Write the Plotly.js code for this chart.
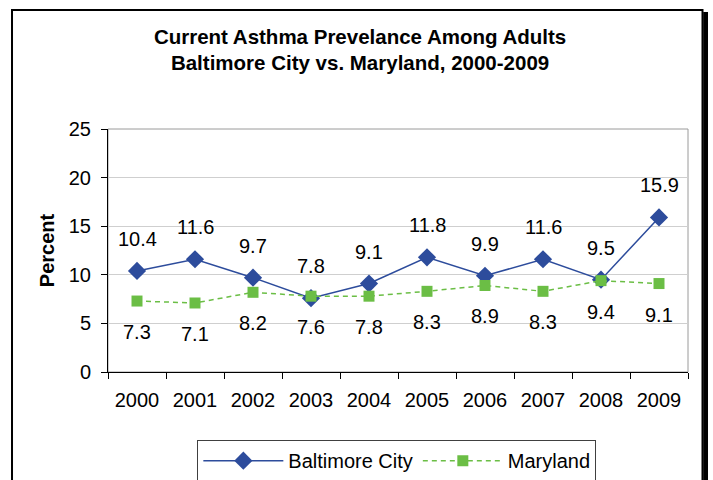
<!DOCTYPE html>
<html>
<head>
<meta charset="utf-8">
<script src="https://cdn.plot.ly/plotly-3.0.1.min.js"></script>
<style>
  html, body { margin: 0; padding: 0; background: #ffffff; }
  #chart { width: 713px; height: 480px; }
</style>
</head>
<body>
<div id="chart"></div>
<script>
const years = ["2000","2001","2002","2003","2004","2005","2006","2007","2008","2009"];
const baltimore = [10.4, 11.6, 9.7, 7.6, 9.1, 11.8, 9.9, 11.6, 9.5, 15.9];
const maryland  = [7.3, 7.1, 8.2, 7.8, 7.8, 8.3, 8.9, 8.3, 9.4, 9.1];
// data labels as printed in the picture (upper row / lower row)
const upperLabels = ["10.4","11.6","9.7","7.8","9.1","11.8","9.9","11.6","9.5","15.9"];
const lowerLabels = ["7.3","7.1","8.2","7.6","7.8","8.3","8.9","8.3","9.4","9.1"];
const yTicks = [0, 5, 10, 15, 20, 25];

const FONT = "Arial, 'Liberation Sans', sans-serif";
const BLUE = "#2D4C9C";
const GREEN = "#6BBE45";

const traces = [
  {
    x: years, y: baltimore, name: "Baltimore City", type: "scatter", mode: "lines+markers",
    line: { color: BLUE, width: 1.5 },
    marker: { symbol: "diamond", size: 14, color: BLUE }
  },
  {
    x: years, y: maryland, name: "Maryland", type: "scatter", mode: "lines+markers",
    line: { color: GREEN, width: 1.5, dash: "5px,4px" },
    marker: { symbol: "square", size: 11, color: GREEN }
  }
];

const annotations = [];
years.forEach((yr, i) => {
  annotations.push({ x: i, y: baltimore[i], xref: "x", yref: "y", text: upperLabels[i],
    showarrow: false, yshift: 32, font: { family: FONT, size: 20, color: "#000" } });
  annotations.push({ x: i, y: maryland[i], xref: "x", yref: "y", text: lowerLabels[i],
    showarrow: false, yshift: -31, font: { family: FONT, size: 20, color: "#000" } });
});

const shapes = [
  { type: "rect", xref: "paper", yref: "paper", x0: -0.1655, x1: 1.0250, y0: -0.47, y1: 1.4897,
    line: { color: "#000", width: 2 }, fillcolor: "rgba(0,0,0,0)", layer: "below" },
  { type: "rect", xref: "paper", yref: "paper", x0: 1.0262, x1: 1.0345, y0: -0.47, y1: 1.4815,
    line: { width: 0 }, fillcolor: "#000", layer: "below" },
  { type: "rect", xref: "paper", yref: "paper", x0: 0, x1: 1, y0: 0, y1: 1,
    line: { color: "#9a9a9a", width: 1 }, fillcolor: "rgba(0,0,0,0)", layer: "below" }
];

const layout = {
  width: 713, height: 480,
  margin: { l: 108, r: 25, t: 129, b: 108, autoexpand: false },
  paper_bgcolor: "#ffffff", plot_bgcolor: "#ffffff",
  font: { family: FONT, size: 20, color: "#000" },
  title: {
    text: "<b>Current Asthma Prevelance Among Adults<br>Baltimore City vs. Maryland, 2000-2009</b>",
    font: { family: FONT, size: 20.5, color: "#000" },
    x: 0.505, xref: "container", xanchor: "center",
    y: 0.909, yref: "container", yanchor: "top"
  },
  xaxis: {
    type: "category", tickson: "boundaries", ticks: "outside", ticklen: 6, tickcolor: "#000",
    showline: true, linecolor: "#000", linewidth: 1, showgrid: false, zeroline: false,
    tickfont: { family: FONT, size: 20, color: "#000" }, ticklabelstandoff: 10,
    range: [-0.5, 9.5], fixedrange: true
  },
  yaxis: {
    range: [0, 25], tickvals: yTicks, ticktext: yTicks.map(String),
    ticks: "outside", ticklen: 6, tickcolor: "#000",
    showline: true, linecolor: "#000", linewidth: 1,
    showgrid: true, gridcolor: "#cfcfcf", gridwidth: 1, zeroline: false,
    tickfont: { family: FONT, size: 20, color: "#000" }, ticklabelstandoff: 6,
    title: { text: "<b>Percent</b>", font: { family: FONT, size: 20, color: "#000" }, standoff: 8 }
  },
  showlegend: true,
  legend: {
    orientation: "h", x: 0.498, xanchor: "center", xref: "paper",
    y: 0.083, yref: "container", yanchor: "top",
    bordercolor: "#404040", borderwidth: 1, bgcolor: "#ffffff",
    font: { family: FONT, size: 20, color: "#000" }, itemwidth: 80
  },
  annotations: annotations,
  shapes: shapes
};

Plotly.newPlot("chart", traces, layout, { displayModeBar: false, staticPlot: true });
</script>
</body>
</html>
